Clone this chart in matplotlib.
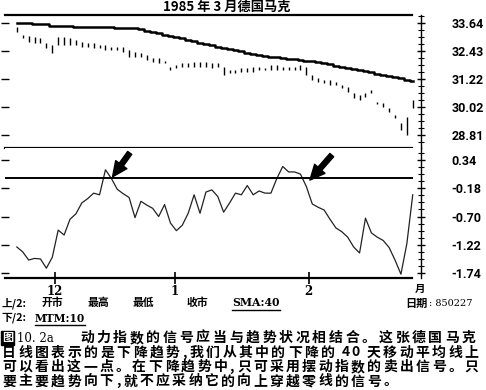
import matplotlib
matplotlib.use('Agg')
import matplotlib.pyplot as plt
from matplotlib.lines import Line2D
from matplotlib.ticker import AutoMinorLocator
import numpy as np

plt.rcParams['font.family'] = ['Noto Sans CJK SC', 'DejaVu Sans']

# daily bars, 1984-11 .. 1985-02-27
high = [33.47, 33.12, 33.08, 33.04, 32.99, 32.78, 32.69, 33.04, 33.04, 32.99,
        32.91, 32.82, 32.78, 32.78, 32.69, 32.69, 32.61, 32.61, 32.61, 32.48,
        32.39, 32.35, 32.26, 32.13, 32.13, 31.99, 31.74, 31.83, 31.92, 31.92,
        31.96, 31.96, 31.96, 31.92, 31.92, 31.74, 31.61, 31.61, 31.70, 31.70,
        31.74, 31.74, 31.70, 31.83, 31.83, 31.74, 31.74, 31.74, 31.83, 31.74,
        31.40, 31.27, 31.18, 31.18, 31.10, 30.97, 30.88, 30.62, 30.54, 30.62,
        30.75, 30.25, 30.19, 29.98, 29.67, 29.33, 29.59, 30.32]
low = [33.25, 32.99, 32.82, 32.78, 32.78, 32.56, 32.35, 32.69, 32.69, 32.69,
       32.69, 32.61, 32.61, 32.56, 32.56, 32.48, 32.48, 32.48, 32.39, 32.17,
       32.17, 32.17, 32.05, 31.96, 31.92, 31.90, 31.61, 31.70, 31.74, 31.74,
       31.74, 31.74, 31.74, 31.70, 31.74, 31.40, 31.49, 31.49, 31.53, 31.53,
       31.53, 31.61, 31.61, 31.61, 31.61, 31.61, 31.61, 31.61, 31.61, 31.40,
       31.18, 31.10, 31.05, 30.97, 30.97, 30.84, 30.67, 30.41, 30.32, 30.45,
       30.62, 30.15, 30.02, 29.80, 29.55, 29.03, 28.81, 29.98]
sma40 = [33.65, 33.65, 33.65, 33.58, 33.58, 33.58, 33.50, 33.50, 33.49, 33.49,
         33.48, 33.48, 33.47, 33.47, 33.46, 33.46, 33.45, 33.44, 33.44, 33.43,
         33.42, 33.38, 33.30, 33.25, 33.19, 33.12, 33.07, 33.02, 32.98, 32.92,
         32.86, 32.79, 32.73, 32.68, 32.62, 32.57, 32.51, 32.47, 32.41, 32.35,
         32.29, 32.26, 32.22, 32.19, 32.16, 32.13, 32.10, 32.08, 32.05, 32.02,
         31.98, 31.95, 31.90, 31.85, 31.80, 31.74, 31.68, 31.64, 31.60, 31.55,
         31.51, 31.46, 31.41, 31.36, 31.31, 31.26, 31.20, 31.12]
mtm10 = [-1.26, -1.35, -1.50, -1.47, -1.48, -1.65, -1.45, -0.95, -1.04, -0.75,
         -0.65, -0.45, -0.37, -0.27, -0.30, 0.16, 0.00, -0.20, -0.28, -0.35,
         -0.72, -0.42, -0.49, -0.55, -0.70, -0.48, -0.82, -0.96, -0.86, -0.64,
         -0.30, -0.64, -0.25, -0.21, -0.33, -0.62, -0.45, -0.27, -0.30, -0.13,
         -0.30, -0.23, -0.27, -0.27, 0.00, 0.22, 0.12, 0.12, 0.08, -0.15,
         -0.47, -0.53, -0.58, -0.75, -0.91, -0.98, -1.08, -1.26, -1.37, -0.73,
         -1.00, -1.08, -1.14, -1.27, -1.50, -1.76, -1.20, -0.30]

month_pos = [6.4, 26.7, 49.4]
month_lbl = ['12', '1', '2']
price_ticks = [33.64, 32.43, 31.22, 30.02, 28.81]
mtm_ticks = [0.34, -0.18, -0.70, -1.22, -1.74]
sell_signals = [(16.2, 0.03, 19.1, 0.47), (49.6, -0.03, 53.3, 0.43)]

caption = ['动力指数的信号应当与趋势状况相结合。这张德国马克',
           '日线图表示的是下降趋势,我们从其中的下降的 40 天移动平均线上',
           '可以看出这一点。在下降趋势中,只可采用摆动指数的卖出信号。只',
           '要主要趋势向下,就不应采纳它的向上穿越零线的信号。']

num_font = ['Roboto', 'DejaVu Sans']
W, H = 486.0, 390.0

fig = plt.figure(figsize=(4.86, 3.9), dpi=100)
ax1 = fig.add_axes([0.0103, 0.6205, 0.856, 0.341])
ax2 = fig.add_axes([0.0103, 0.2872, 0.856, 0.3333], sharex=ax1)

x = np.arange(len(high))
ax1.vlines(x, low, high, color='k', lw=1.0)
ax1.plot(x, sma40, color='k', lw=1.8, drawstyle='steps-mid')
ax1.set_xlim(-2.0, 68.4)
ax1.set_ylim(28.25, 33.98)

ax2.plot(x, mtm10, color='#222222', lw=0.9)
ax2.axhline(0, xmin=0, xmax=68.8 / 70.4, color='k', lw=1.4)
ax2.set_ylim(-1.83, 0.56)
for x0, y0, x1, y1 in sell_signals:
    ax2.annotate('', xy=(x0, y0), xytext=(x1, y1), annotation_clip=False,
                 arrowprops=dict(arrowstyle='simple,head_width=1.1,head_length=1.2,tail_width=0.4',
                                 fc='k', ec='k', mutation_scale=9, shrinkA=0, shrinkB=0))

for ax, ticks in [(ax1, price_ticks), (ax2, mtm_ticks)]:
    ax.spines['left'].set_visible(False)
    ax.spines['right'].set_linewidth(1.0)
    ax.spines['bottom'].set_linewidth(1.6)
    ax.spines['bottom'].set_bounds(-2.0, 66.8)
    ax.set_yticks(ticks)
    ax.set_yticklabels(['%.2f' % t for t in ticks])
    ax.yaxis.set_minor_locator(AutoMinorLocator(4))
    ax.tick_params(axis='y', which='major', direction='inout', left=True, right=True,
                   labelleft=False, labelright=True, length=6, width=1.0, pad=19)
    ax.tick_params(axis='y', which='minor', direction='inout', left=False, right=True,
                   length=4, width=0.8)
    for lbl in ax.get_yticklabels():
        lbl.set_family(num_font)
        lbl.set_fontweight('bold')
        lbl.set_fontsize(9)

ax1.spines['top'].set_linewidth(1.6)
ax1.spines['top'].set_bounds(-2.0, 66.8)
ax2.spines['top'].set_visible(False)

ax2.set_xticks(month_pos, month_lbl)
ax1.tick_params(axis='x', bottom=False, labelbottom=False)
ax2.tick_params(axis='x', direction='inout', length=8, width=1.2, pad=1)
for lbl in ax2.get_xticklabels():
    lbl.set_family(['DejaVu Serif'])
    lbl.set_fontweight('bold')
    lbl.set_fontsize(8.5)

fig.text(0.467, 0.982, '1985 年 3 月德国马克', ha='center', va='center',
         fontsize=9.5, fontweight='bold')
fig.text(420 / W, 1 - 289 / H, '月', ha='center', va='center', fontsize=7.5,
         fontweight='bold')

# legend rows under the chart
row1 = 1 - 303 / H
row2 = 1 - 318 / H
fig.text(2 / W, row1, '上/2:', va='center', fontsize=7.8, fontweight='bold')
for xs, s in [(42, '开市'), (88, '最高'), (133, '最低'), (187, '收市')]:
    fig.text(xs / W, row1, s, va='center', fontsize=7.8, fontweight='bold')
t_sma = fig.text(232 / W, row1, 'SMA:40', va='center', fontsize=7.8, fontweight='bold',
                 family=['DejaVu Serif'])
fig.text(405 / W, row1, '日期', va='center', fontsize=8, fontweight='bold')
fig.text(429 / W, row1, ': 850227', va='center', fontsize=7, family=['DejaVu Serif'])
fig.text(1 / W, row2, '下/2:', va='center', fontsize=7.8, fontweight='bold')
t_mtm = fig.text(35 / W, row2, 'MTM:10', va='center', fontsize=7.7, fontweight='bold',
                 family=['DejaVu Serif'])

fig.canvas.draw()
for t in (t_sma, t_mtm):
    bb = t.get_window_extent()
    fig.add_artist(Line2D([bb.x0, bb.x1], [bb.y0 - 1, bb.y0 - 1], color='k', lw=1.0,
                          transform=None))


def char_units(ch):
    if ch == ',':
        return 0.45
    if ch.isdigit():
        return 0.6
    if ch == ' ':
        return 0.3
    return 1.0


def spaced_line(x0, y, s, x1=None, pitch=None):
    units = [char_units(c) for c in s]
    if pitch is None:
        pitch = (x1 - x0) / sum(units)
    xx = x0
    for c, u in zip(s, units):
        if c != ' ':
            fig.text(xx / W, y, c, va='center', fontsize=10, fontweight='bold')
        xx += u * pitch
    return pitch


cap_y = [1 - 338 / H, 1 - 352.5 / H, 1 - 367 / H, 1 - 381.5 / H]
fig.text(2 / W, cap_y[0], '图', va='center', fontsize=8, color='white', fontweight='bold',
         bbox=dict(boxstyle='square,pad=0.06', fc='k', ec='k'))
fig.text(17 / W, cap_y[0], '10. 2a', va='center', fontsize=8.5, family=['DejaVu Serif'])
spaced_line(80, cap_y[0], caption[0], x1=478)
spaced_line(2, cap_y[1], caption[1], x1=481)
p = spaced_line(2, cap_y[2], caption[2], x1=481)
spaced_line(2, cap_y[3], caption[3], pitch=p)

fig.savefig('out.png', dpi=100)
